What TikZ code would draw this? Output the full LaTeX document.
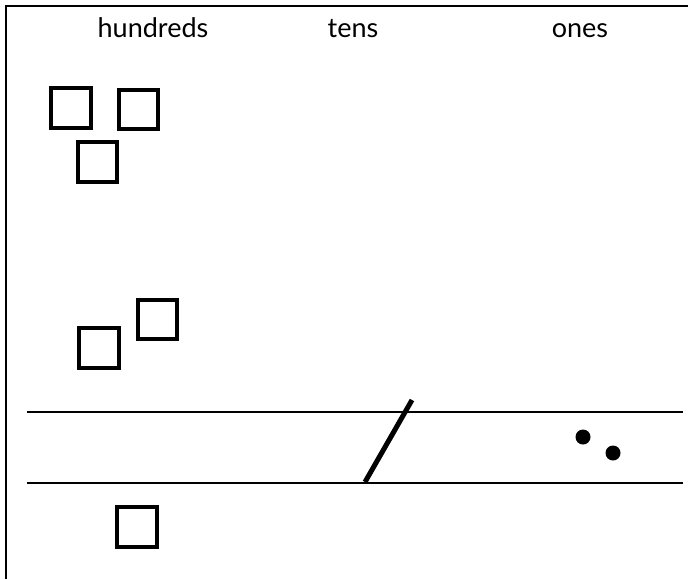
\documentclass[tikz,border=0pt]{standalone}
\usepackage{fontspec}
\setmainfont{Lato}
\begin{document}
\begin{tikzpicture}[x=1pt,y=-1pt,
  label/.style={anchor=base,inner sep=0pt,font=\fontsize{27}{30}\selectfont},
  block/.style={draw,line width=4pt,minimum size=39.5pt,inner sep=0pt},
  rule/.style={line width=2.4pt},
  bead/.style={circle,fill,minimum size=15pt,inner sep=0pt}]
  \useasboundingbox (0,0) rectangle (688,579);
  % frame: top and left edges only
  \coordinate (tl) at (6,6);
  \coordinate (tr) at (688,6);
  \coordinate (bl) at (6,579);
  \draw[line width=2pt] (tr) -- (tl) -- (bl);
  % column headings
  \node[label] (h) at (153,37) {hundreds};
  \node[label] (t) at (353,37) {tens};
  \node[label] (o) at (580,37) {ones};
  % hundreds blocks
  \node[block] (s1) at (71,108) {};
  \node[block] (s2) at (138.5,109.5) {};
  \node[block] (s3) at (97.5,162) {};
  \node[block] (s4) at (157.5,319.5) {};
  \node[block] (s5) at (99,348) {};
  \node[block] (s6) at (137,527) {};
  % ruled band
  \coordinate (a1) at (27,412);
  \coordinate (a2) at (683,412);
  \coordinate (b1) at (27,483);
  \coordinate (b2) at (683,483);
  \draw[rule] (a1) -- (a2);
  \draw[rule] (b1) -- (b2);
  % ten stick
  \coordinate (k1) at (365,482);
  \coordinate (k2) at (412,400);
  \draw[line width=5pt] (k1) -- (k2);
  % ones beads
  \node[bead] (d1) at (583,437) {};
  \node[bead] (d2) at (613,453) {};
\end{tikzpicture}
\end{document}
